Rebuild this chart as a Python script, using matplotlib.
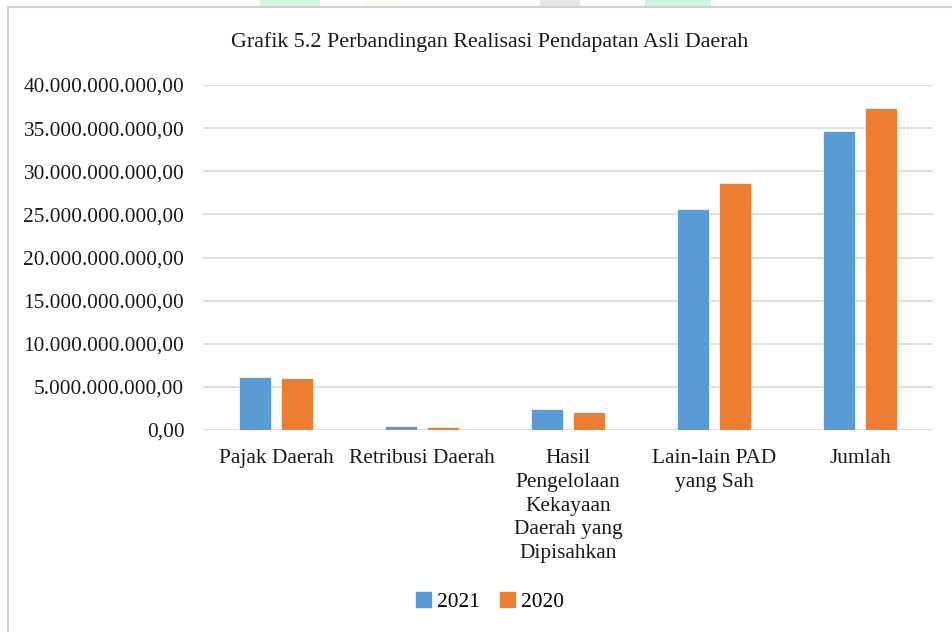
import matplotlib.pyplot as plt
import matplotlib.patches as mpatches
import numpy as np
from matplotlib.ticker import FuncFormatter, MultipleLocator

# realisasi PAD (rupiah)
kategori = ['Pajak Daerah', 'Retribusi Daerah',
            'Hasil\nPengelolaan\nKekayaan\nDaerah yang\nDipisahkan',
            'Lain-lain PAD\nyang Sah', 'Jumlah']
nilai_2021 = [6.11e9, 0.43e9, 2.43e9, 25.62e9, 34.69e9]
nilai_2020 = [6.07e9, 0.35e9, 2.12e9, 28.64e9, 37.33e9]
tahun = ['2021', '2020']

plt.rcParams['font.family'] = ['Liberation Serif', 'DejaVu Serif']

biru = '#5B9BD5'
oranye = '#ED7D31'


def rupiah(v, pos=None):
    s = '{:,.2f}'.format(v)
    return s.replace(',', 'X').replace('.', ',').replace('X', '.')


fig = plt.figure(figsize=(9.52, 6.32), dpi=100)
ax = fig.add_axes([203 / 952, 1 - 430 / 632, 730 / 952, 345 / 632])

x = np.arange(len(kategori))
lebar = 0.222
ax.bar(x - 0.143, nilai_2021, lebar, color=biru, edgecolor='white', linewidth=0.5, label=tahun[0], zorder=3)
ax.bar(x + 0.143, nilai_2020, lebar, color=oranye, edgecolor='white', linewidth=0.5, label=tahun[1], zorder=3)

ax.set_xlim(-0.5, len(kategori) - 0.5)
ax.set_ylim(0, 40e9)
ax.yaxis.set_major_locator(MultipleLocator(5e9))
ax.yaxis.set_major_formatter(FuncFormatter(rupiah))
ax.grid(axis='y', color='#D9D9D9', linewidth=1.2, zorder=0)
for s in ax.spines.values():
    s.set_visible(False)
ax.tick_params(axis='both', length=0, labelsize=15.4, colors='#1a1a1a')
ax.tick_params(axis='y', pad=13.5)
ax.tick_params(axis='x', pad=14)
ax.set_xticks(x)
ax.set_xticklabels(kategori, linespacing=1.33)

fig.text(490 / 952, 1 - 42 / 632, 'Grafik 5.2 Perbandingan Realisasi Pendapatan Asli Daerah',
         ha='center', va='center', fontsize=15.8, color='#1a1a1a')

h = [mpatches.Patch(color=biru), mpatches.Patch(color=oranye)]
fig.legend(h, tahun, loc='center', bbox_to_anchor=(490 / 952, 1 - 602 / 632), ncol=2,
           frameon=False, fontsize=15.4, handlelength=0.7, handleheight=0.7,
           handletextpad=0.3, columnspacing=0.9)

# bingkai grafik dan bercak di tepi atas
fig.add_artist(plt.Line2D([8 / 952, 8 / 952], [0, 1 - 7 / 632], color='#D0D0D0', linewidth=1.5))
fig.add_artist(plt.Line2D([8 / 952, 1], [1 - 7 / 632, 1 - 7 / 632], color='#D0D0D0', linewidth=1.5))
for x0, x1, c in [(260, 320, '#D3F5E0'), (540, 580, '#E4E6E3'), (645, 711, '#CCF5E0'), (365, 400, '#FCFDEF')]:
    fig.add_artist(mpatches.Rectangle((x0 / 952, 1 - 6 / 632), (x1 - x0) / 952, 6 / 632,
                                      color=c, linewidth=0))

fig.savefig('out.png', dpi=100)
